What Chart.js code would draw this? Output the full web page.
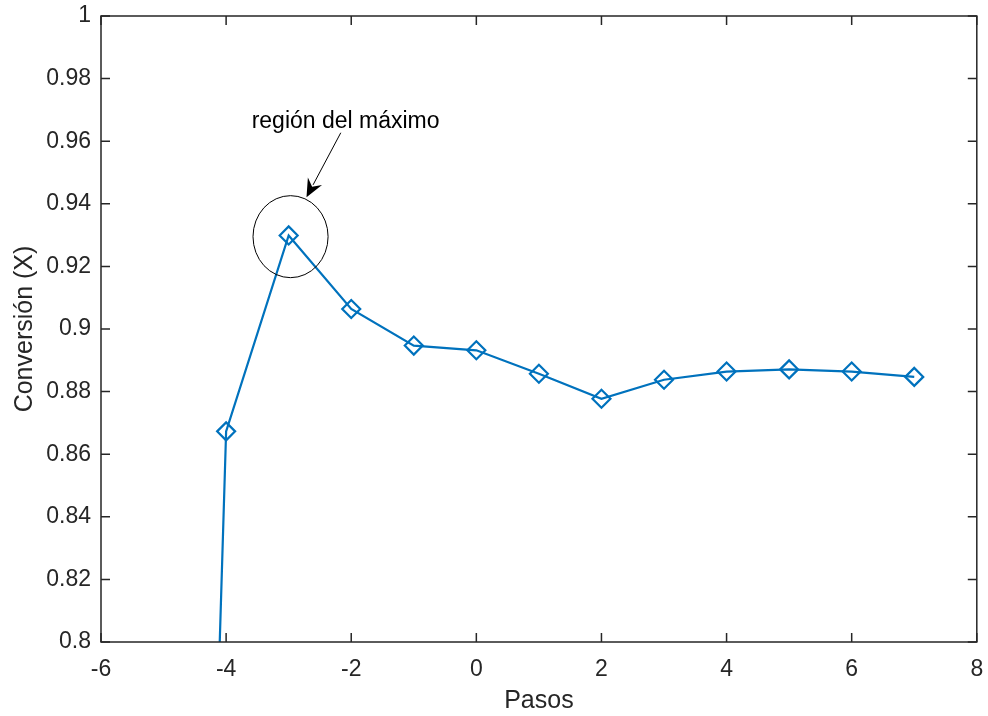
<!DOCTYPE html>
<html>
<head>
<meta charset="utf-8">
<script src="https://cdn.jsdelivr.net/npm/chart.js@4.4.1/dist/chart.umd.min.js"></script>
<style>
  html, body { margin: 0; padding: 0; background: #fff; }
  #wrap { width: 988px; height: 716px; }
</style>
</head>
<body>
<div id="wrap"><canvas id="chart" width="988" height="716"></canvas></div>
<script>
// data (first point lies below the visible range)
const pasos = [-5, -4, -3, -2, -1, 0, 1, 2, 3, 4, 5, 6, 7];
const conversion = [0.207, 0.8673, 0.9299, 0.9064, 0.8947, 0.8932, 0.8857, 0.8777, 0.8838, 0.8864, 0.8871, 0.8864, 0.8847];

const xTicks = [-6, -4, -2, 0, 2, 4, 6, 8];
const yTicks = [0.8, 0.82, 0.84, 0.86, 0.88, 0.9, 0.92, 0.94, 0.96, 0.98, 1];

// annotation, in data units
const circleCenter = [-2.97, 0.9295];
const circleRadius = [0.6, 0.0131];
const arrowFrom = [-2.167, 0.9627];
const arrowTo = [-2.715, 0.9421];
const noteAt = [-2.09, 0.9662];
const noteText = 'región del máximo';

const axisColor = '#262626';
const lineColor = '#0072BD';
const fontFamily = '"Liberation Sans", Arial, Helvetica, sans-serif';

const points = pasos.map((p, i) => ({ x: p, y: conversion[i] }));

// keep label overhang from pushing the plot box around
function noPad(s) {
    s.paddingTop = 0; s.paddingBottom = 0;
    s.paddingLeft = 0; s.paddingRight = 0;
}

// box + inward ticks on all four sides, plus the circle/arrow note
const boxPlugin = {
    id: 'boxPlugin',
    afterDraw(chart) {
        const { ctx, chartArea: a, scales: { x, y } } = chart;
        const tl = 9;
        ctx.save();
        ctx.strokeStyle = axisColor;
        ctx.lineWidth = 1.5;
        ctx.strokeRect(a.left, a.top, a.right - a.left, a.bottom - a.top);
        ctx.beginPath();
        xTicks.forEach(v => {
            const px = x.getPixelForValue(v);
            ctx.moveTo(px, a.bottom); ctx.lineTo(px, a.bottom - tl);
            ctx.moveTo(px, a.top); ctx.lineTo(px, a.top + tl);
        });
        yTicks.forEach(v => {
            const py = y.getPixelForValue(v);
            ctx.moveTo(a.left, py); ctx.lineTo(a.left + tl, py);
            ctx.moveTo(a.right, py); ctx.lineTo(a.right - tl, py);
        });
        ctx.stroke();

        // ellipse round the maximum
        const cx = x.getPixelForValue(circleCenter[0]);
        const cy = y.getPixelForValue(circleCenter[1]);
        const rx = x.getPixelForValue(circleCenter[0] + circleRadius[0]) - cx;
        const ry = cy - y.getPixelForValue(circleCenter[1] + circleRadius[1]);
        ctx.strokeStyle = '#000';
        ctx.lineWidth = 1;
        ctx.beginPath();
        ctx.ellipse(cx, cy, rx, ry, 0, 0, Math.PI * 2);
        ctx.stroke();

        // arrow
        const x1 = x.getPixelForValue(arrowFrom[0]), y1 = y.getPixelForValue(arrowFrom[1]);
        const x2 = x.getPixelForValue(arrowTo[0]), y2 = y.getPixelForValue(arrowTo[1]);
        const ang = Math.atan2(y2 - y1, x2 - x1);
        const hl = 18, hw = 8;
        const bx = x2 - hl * Math.cos(ang), by = y2 - hl * Math.sin(ang);
        ctx.beginPath();
        ctx.moveTo(x1, y1);
        ctx.lineTo(bx + 4 * Math.cos(ang), by + 4 * Math.sin(ang));
        ctx.stroke();
        const nx = -Math.sin(ang), ny = Math.cos(ang);
        ctx.fillStyle = '#000';
        ctx.beginPath();
        ctx.moveTo(x2, y2);
        ctx.lineTo(bx + nx * hw, by + ny * hw);
        ctx.lineTo(bx + 6 * Math.cos(ang), by + 6 * Math.sin(ang));
        ctx.lineTo(bx - nx * hw, by - ny * hw);
        ctx.closePath();
        ctx.fill();

        ctx.font = '23px ' + fontFamily;
        ctx.textAlign = 'center';
        ctx.textBaseline = 'middle';
        ctx.fillText(noteText, x.getPixelForValue(noteAt[0]), y.getPixelForValue(noteAt[1]));
        ctx.restore();
    }
};

const ctx = document.getElementById('chart').getContext('2d');
const chart = new Chart(ctx, {
    type: 'line',
    data: {
        datasets: [{
            data: points,
            borderColor: lineColor,
            borderWidth: 2.2,
            backgroundColor: 'rgba(0,0,0,0)',
            pointStyle: 'rectRot',
            pointRadius: 9,
            pointBorderWidth: 2.2,
            pointBorderColor: lineColor,
            pointBackgroundColor: 'rgba(0,0,0,0)',
            tension: 0,
            fill: false,
        }]
    },
    options: {
        responsive: false,
        animation: false,
        layout: { padding: { top: 16, right: 6, left: 0, bottom: 0 } },
        plugins: {
            legend: { display: false },
            tooltip: { enabled: false },
        },
        scales: {
            x: {
                type: 'linear',
                min: -6,
                max: 8,
                afterBuildTicks: s => { s.ticks = xTicks.map(v => ({ value: v })); },
                afterFit: s => { s.height = 74; noPad(s); },
                grid: { display: false, drawTicks: false },
                border: { display: false },
                ticks: {
                    color: axisColor,
                    font: { family: fontFamily, size: 23 },
                    padding: 14,
                    maxRotation: 0,
                    callback: v => String(v),
                },
                title: {
                    display: true,
                    text: 'Pasos',
                    color: axisColor,
                    font: { family: fontFamily, size: 25 },
                    padding: { top: 4, bottom: 0 },
                },
            },
            y: {
                type: 'linear',
                min: 0.8,
                max: 1,
                afterBuildTicks: s => { s.ticks = yTicks.map(v => ({ value: v })); },
                afterFit: s => { s.width = 101; noPad(s); },
                grid: { display: false, drawTicks: false },
                border: { display: false },
                ticks: {
                    color: axisColor,
                    font: { family: fontFamily, size: 23 },
                    padding: 10,
                    callback: v => String(Math.round(v * 100) / 100),
                },
                title: {
                    display: true,
                    text: 'Conversión (X)',
                    color: axisColor,
                    font: { family: fontFamily, size: 25 },
                    padding: { top: 10, bottom: 0 },
                },
            },
        },
    },
    plugins: [boxPlugin],
});
</script>
</body>
</html>
